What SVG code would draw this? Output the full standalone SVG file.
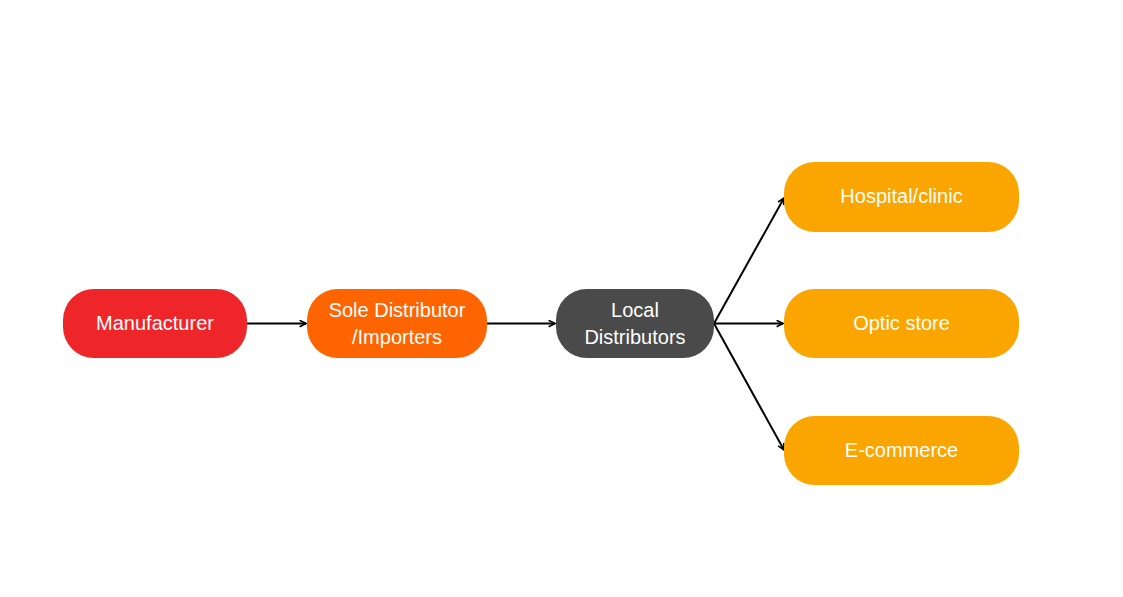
<svg xmlns="http://www.w3.org/2000/svg" width="1123" height="597" viewBox="0 0 1123 597">
<style>
.t{font-family:"Liberation Sans",Arial,sans-serif;font-size:20px;fill:#ffffff;text-anchor:middle}
.c{stroke:#000;stroke-width:2;fill:none;marker-end:url(#a)}
</style>
<defs>
<marker id="a" viewBox="0 0 10 10" refX="9" refY="5" markerWidth="4" markerHeight="4" orient="auto" markerUnits="strokeWidth">
<path d="M1,1 L9,5 L1,9" fill="none" stroke="#000" stroke-width="2"/>
</marker>
</defs>
<rect width="1123" height="597" fill="#ffffff"/>
<g id="connectors">
<line class="c" x1="247" y1="323.5" x2="306" y2="323.5"/>
<line class="c" x1="487" y1="323.5" x2="555" y2="323.5"/>
<line class="c" x1="714" y1="323.5" x2="784" y2="198"/>
<line class="c" x1="714" y1="323.5" x2="783" y2="323.5"/>
<line class="c" x1="714" y1="323.5" x2="784" y2="450"/>
</g>
<g id="manufacturer">
<rect x="63" y="289" width="184" height="69" rx="31" fill="#ef2629"/>
<text class="t" x="155" y="330">Manufacturer</text>
</g>
<g id="sole-distributor">
<rect x="307" y="289" width="180" height="69" rx="31" fill="#fe6500"/>
<text class="t" x="397" y="317">Sole Distributor</text>
<text class="t" x="397" y="344">/Importers</text>
</g>
<g id="local-distributors">
<rect x="556" y="289" width="158" height="69" rx="31" fill="#4a4a4a"/>
<text class="t" x="635" y="317">Local</text>
<text class="t" x="635" y="344">Distributors</text>
</g>
<g id="hospital">
<rect x="784" y="162" width="235" height="70" rx="31" fill="#fba500"/>
<text class="t" x="901.5" y="203">Hospital/clinic</text>
</g>
<g id="optic-store">
<rect x="784" y="289" width="235" height="69" rx="31" fill="#fba500"/>
<text class="t" x="901.5" y="330">Optic store</text>
</g>
<g id="e-commerce">
<rect x="784" y="416" width="235" height="69" rx="31" fill="#fba500"/>
<text class="t" x="901.5" y="457">E-commerce</text>
</g>
</svg>
